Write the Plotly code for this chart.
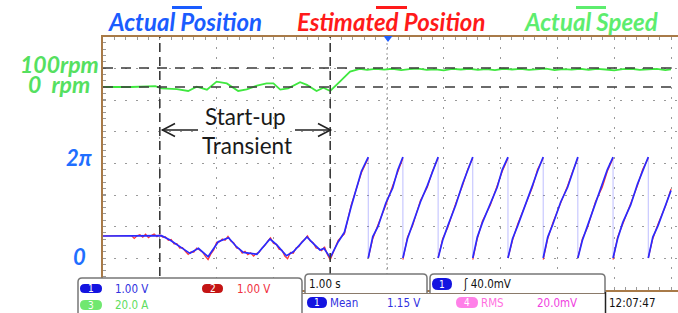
import plotly.graph_objects as go

# ---------------- data ----------------
TWO_PI = 6.283

# Actual speed (rpm) vs time (s)
SPEED_T = [0.00, 0.50, 0.92, 1.03, 1.30, 1.50, 1.65, 1.74, 1.83, 2.00, 2.18, 2.38, 2.53, 2.71,
           2.88, 3.00, 3.12, 3.26, 3.47, 3.59, 3.76, 3.88, 4.00, 4.17, 4.35, 4.52,
           4.65, 4.80, 4.95, 5.10, 5.25, 5.40, 5.55, 5.70, 5.85, 6.00, 6.15, 6.30, 6.45, 6.60,
           6.75, 6.90, 7.05, 7.20, 7.35, 7.50, 7.65, 7.80, 7.95, 8.10, 8.25, 8.40, 8.55, 8.70,
           8.85, 9.00, 9.15, 9.30, 9.45, 9.60, 9.75, 9.90, 10.00]
SPEED_RPM = [0, 0, 5, -7, -11, -21, 2, -7, -14, 28, 19, -21, -12, 7,
             19, 19, -14, -7, 25, 11, -21, -4, -21, 28, 81, 95,
             90, 95, 91, 96, 89, 94, 97, 90, 93, 88, 95, 92, 96, 90,
             94, 89, 96, 92, 95, 90, 93, 97, 89, 94, 91, 96, 90, 95,
             92, 88, 94, 96, 90, 93, 95, 89, 93]

# Actual position (rad) vs time (s); None separates sawtooth ramps
POS_T = [0.00, 0.48, 1.03, 1.18, 1.36, 1.53, 1.68, 1.85, 2.03, 2.21, 2.35, 2.47, 2.71, 2.94,
         3.06, 3.23, 3.35, 3.59, 3.70, 3.82, 3.89, 4.00,
         4.14, 4.25, 4.37, 4.55, 4.67, None,
         4.67, 4.75, 4.84, 4.98, 5.10, 5.19, 5.28, None,
         5.28, 5.36, 5.45, 5.59, 5.71, 5.80, 5.90, None,
         5.90, 5.98, 6.07, 6.21, 6.33, 6.42, 6.51, None,
         6.51, 6.59, 6.68, 6.82, 6.94, 7.03, 7.13, None,
         7.13, 7.21, 7.30, 7.44, 7.56, 7.65, 7.75, None,
         7.75, 7.83, 7.92, 8.06, 8.18, 8.27, 8.36, None,
         8.36, 8.44, 8.53, 8.67, 8.79, 8.88, 8.98, None,
         8.98, 9.06, 9.15, 9.29, 9.41, 9.50, 9.60, None,
         9.60, 9.68, 9.77, 9.91, 10.00]
POS_V = [1.37, 1.37, 1.39, 1.12, 0.70, 0.29, 0.60, 0.08, 1.01, 1.26, 0.70, 0.35, 0.23, 1.18,
         0.81, 0.14, 0.39, 1.31, 0.91, 0.50, 0.60, 0.02,
         1.0, 1.6, 3.2, 5.4, 6.28, None,
         0.0, 1.33, 1.95, 3.42, 4.35, 5.48, 6.28, None,
         0.0, 1.2, 2.1, 3.5, 4.5, 5.3, 6.28, None,
         0.0, 1.1, 2.0, 3.3, 4.6, 5.4, 6.28, None,
         0.0, 1.3, 2.2, 3.4, 4.4, 5.5, 6.28, None,
         0.0, 1.2, 2.0, 3.3, 4.5, 5.4, 6.28, None,
         0.0, 1.3, 2.1, 3.5, 4.4, 5.3, 6.28, None,
         0.0, 1.1, 2.0, 3.4, 4.5, 5.5, 6.28, None,
         0.0, 1.2, 2.2, 3.3, 4.6, 5.4, 6.28, None,
         0.0, 1.3, 2.0, 3.4, 4.2]

# Times of the wrap-around (2pi -> 0)
WRAP_T = [4.67, 5.28, 5.90, 6.51, 7.13, 7.75, 8.36, 8.98, 9.60]

# Estimated position (rad) vs time (s)
EST_T = [0.00, 0.20, 0.40, 0.50, 0.55, 0.60, 0.65, 0.70, 0.75, 0.80, 0.85, 0.90, 0.95, 1.00,
         1.05, 1.10, 1.15, 1.20, 1.25, 1.30, 1.35, 1.40, 1.45, 1.50, 1.55, 1.60, 1.65, 1.70,
         1.75, 1.80, 1.85, 1.90, 1.95, 2.00, 2.05, 2.10, 2.15, 2.20, 2.25, 2.30, 2.35, 2.40,
         2.45, 2.50, 2.55, 2.60, 2.65, 2.70, 2.75, 2.80, 2.85, 2.90, 2.95, 3.00, 3.05, 3.10,
         3.15, 3.20, 3.25, 3.30, 3.35, 3.40, 3.45, 3.50, 3.55, 3.60, 3.65, 3.70, 3.75, 3.80,
         3.85, 3.90, 3.95, 4.00,
         4.14, 4.25, 4.37, 4.55, 4.67, None,
         4.67, 4.75, 4.84, 4.98, 5.10, 5.19, 5.28, None,
         5.28, 5.36, 5.45, 5.59, 5.71, 5.80, 5.90, None,
         5.90, 5.98, 6.07, 6.21, 6.33, 6.42, 6.51, None,
         6.51, 6.59, 6.68, 6.82, 6.94, 7.03, 7.13, None,
         7.13, 7.21, 7.30, 7.44, 7.56, 7.65, 7.75, None,
         7.75, 7.83, 7.92, 8.06, 8.18, 8.27, 8.36, None,
         8.36, 8.44, 8.53, 8.67, 8.79, 8.88, 8.98, None,
         8.98, 9.06, 9.15, 9.29, 9.41, 9.50, 9.60, None,
         9.60, 9.68, 9.77, 9.91, 10.00]
EST_V = [1.37, 1.37, 1.36, 1.40, 1.22, 1.38, 1.45, 1.30, 1.48, 1.26, 1.40, 1.50, 1.32, 1.45,
         1.30, 1.32, 1.10, 1.15, 0.88, 0.90, 0.62, 0.65, 0.42, 0.22, 0.38, 0.36, 0.62, 0.50,
         0.38, 0.12, -0.10, 0.25, 0.50, 0.98, 1.00, 1.18, 1.10, 1.35, 1.05, 0.95, 0.62, 0.58,
         0.30, 0.42, 0.20, 0.32, 0.12, 0.28, 0.35, 0.62, 0.78, 1.05, 1.25, 0.92, 0.85, 0.55,
         0.48, 0.12, -0.05, 0.35, 0.30, 0.62, 0.72, 1.00, 1.15, 1.38, 1.05, 0.95, 0.62, 0.58,
         0.45, 0.70, 0.22, -0.12,
         1.1, 1.5, 3.3, 5.3, 6.2, None,
         0.0, 1.2, 2.05, 3.3, 4.5, 5.35, 6.2, None,
         -0.1, 1.3, 2.0, 3.6, 4.4, 5.4, 6.2, None,
         0.0, 1.2, 1.9, 3.4, 4.5, 5.5, 6.2, None,
         -0.1, 1.2, 2.3, 3.3, 4.5, 5.4, 6.2, None,
         0.0, 1.1, 2.1, 3.4, 4.4, 5.5, 6.2, None,
         -0.1, 1.2, 2.2, 3.4, 4.5, 5.4, 6.2, None,
         0.0, 1.2, 1.9, 3.5, 4.4, 5.4, 6.2, None,
         -0.1, 1.3, 2.1, 3.4, 4.5, 5.5, 6.2, None,
         0.0, 1.2, 2.1, 3.3, 4.3]

CURSOR_T = [1.0, 4.0]          # start-up transient limits (s)
CURSOR_RPM = [100, 0]          # speed cursors (rpm)
TRIGGER_T = 5.0

# ---------------- geometry helpers (layout only) ----------------
W, H = 678, 313
ML, MR, MT, MB = 103, 0, 37, 23
PW, PH = W - ML - MR, H - MT - MB
X_RANGE = [0, PW / 56.8]
RAD_PX = 16.075                 # pixels per radian
DIV_PX = PH / 8                 # one vertical division in pixels
POS_RANGE = [-32 / RAD_PX, (PH - 32) / RAD_PX]
DIV_RAD = DIV_PX / RAD_PX       # one division expressed in radians
RPM_PX = 0.19
SPD_RANGE = [-(PH - 50) / RPM_PX, 50 / RPM_PX]


def px(x):
    return (x - ML) / PW


def py(y):
    return (H - MB - y) / PH


def rrect(x0, y0, x1, y1, r):
    rx, ry = r / PW, r / PH
    X0, X1, Y0, Y1 = px(x0), px(x1), py(y0), py(y1)
    return (f"M{X0+rx},{Y0} L{X1-rx},{Y0} Q{X1},{Y0} {X1},{Y0-ry} L{X1},{Y1+ry} "
            f"Q{X1},{Y1} {X1-rx},{Y1} L{X0+rx},{Y1} Q{X0},{Y1} {X0},{Y1+ry} "
            f"L{X0},{Y0-ry} Q{X0},{Y0} {X0+rx},{Y0} Z")


fig = go.Figure()

# drops of the sawtooth (faint)
dx, dy = [], []
for t in WRAP_T:
    dx += [t, t, None]
    dy += [TWO_PI, 0, None]
fig.add_trace(go.Scatter(x=dx, y=dy, mode="lines",
                         line=dict(color="rgba(110,110,255,0.45)", width=1), hoverinfo="skip"))
fig.add_trace(go.Scatter(x=EST_T, y=EST_V, mode="lines",
                         line=dict(color="#ff3434", width=1.2), name="Estimated Position"))
fig.add_trace(go.Scatter(x=POS_T, y=POS_V, mode="lines",
                         line=dict(color="#2a2aff", width=1.7), name="Actual Position"))
fig.add_trace(go.Scatter(x=SPEED_T, y=SPEED_RPM, yaxis="y2", mode="lines",
                         line=dict(color="#3fe83f", width=1.8), name="Actual Speed"))

shapes = []
# cursors
for t in CURSOR_T:
    shapes.append(dict(type="line", xref="x", yref="paper", x0=t, x1=t, y0=0, y1=1,
                       line=dict(color="#3a3a3a", width=1.6, dash="9px,5px"), layer="above"))
for r in CURSOR_RPM:
    shapes.append(dict(type="line", xref="paper", yref="y2", x0=0, x1=1, y0=r, y1=r,
                       line=dict(color="#3a3a3a", width=1.6, dash="10px,8px"), layer="above"))
# trigger center line
shapes.append(dict(type="line", xref="x", yref="paper", x0=TRIGGER_T, x1=TRIGGER_T, y0=0, y1=1,
                   line=dict(color="#b0b0b0", width=1.2, dash="2px,3px"), layer="below"))
# trigger marker
shapes.append(dict(type="path", xref="paper", yref="paper",
                   path=f"M{px(383.5)},{py(36)} L{px(392.5)},{py(36)} L{px(388)},{py(42)} Z",
                   fillcolor="#1f5fff", line=dict(width=0), layer="above"))
# start-up arrows
arrow_line = dict(color="#222222", width=1.6)
shapes += [
    dict(type="line", xref="paper", yref="paper", x0=px(162), x1=px(198), y0=py(130), y1=py(130), line=arrow_line),
    dict(type="path", xref="paper", yref="paper",
         path=f"M{px(175)},{py(123.5)} L{px(162.5)},{py(130)} L{px(175)},{py(136.5)}", line=arrow_line),
    dict(type="line", xref="paper", yref="paper", x0=px(295), x1=px(331), y0=py(130), y1=py(130), line=arrow_line),
    dict(type="path", xref="paper", yref="paper",
         path=f"M{px(318)},{py(123.5)} L{px(330.5)},{py(130)} L{px(318)},{py(136.5)}", line=arrow_line),
]
# overline bars of the legend titles
for (x0, x1, c) in [(172, 202, "#1a5cff"), (376, 407, "#ff1a1a"), (576, 606, "#5ded6e")]:
    shapes.append(dict(type="rect", xref="paper", yref="paper", x0=px(x0), x1=px(x1),
                       y0=py(9), y1=py(6), fillcolor=c, line=dict(width=0)))

# info panel boxes
shapes.append(dict(type="rect", xref="paper", yref="paper", x0=px(302), x1=px(678),
                   y0=py(320), y1=py(293), fillcolor="white", line=dict(width=0), layer="above"))
shapes.append(dict(type="path", xref="paper", yref="paper", path=rrect(78, 278, 302, 330, 4),
                   fillcolor="white", line=dict(color="#777777", width=1.5), layer="above"))
shapes.append(dict(type="path", xref="paper", yref="paper", path=rrect(305, 274, 427, 300, 4),
                   fillcolor="white", line=dict(color="#777777", width=1.5), layer="above"))
shapes.append(dict(type="path", xref="paper", yref="paper", path=rrect(430, 274, 605, 300, 4),
                   fillcolor="white", line=dict(color="#777777", width=1.5), layer="above"))
shapes.append(dict(type="rect", xref="paper", yref="paper", x0=px(303), x1=px(606),
                   y0=py(313), y1=py(294), fillcolor="white", line=dict(width=0), layer="above"))
shapes.append(dict(type="line", xref="paper", yref="paper", x0=px(302), x1=px(606),
                   y0=py(293.5), y1=py(293.5), line=dict(color="#8a7a6a", width=1.2), layer="above"))
shapes.append(dict(type="line", xref="paper", yref="paper", x0=px(605.5), x1=px(605.5),
                   y0=py(292), y1=py(313), line=dict(color="#222222", width=1.5), layer="above"))

# badges
BADGES = [
    (80, 284, 102, 293, "#1414e0", "1"),
    (202, 284, 223, 293, "#c41414", "2"),
    (80, 300, 102, 310, "#70e870", "3"),
    (432, 278, 452, 290, "#1414e0", "1"),
    (307, 297, 327, 308, "#1414e0", "1"),
    (456, 297, 478, 308, "#ff80e8", "4"),
]
annotations = []
for (x0, y0, x1, y1, c, lab) in BADGES:
    shapes.append(dict(type="path", xref="paper", yref="paper",
                       path=rrect(x0, y0, x1, y1, (y1 - y0) / 2), fillcolor=c,
                       line=dict(width=0), layer="above"))
    annotations.append(dict(x=px((x0 + x1) / 2), y=py((y0 + y1) / 2), xref="paper", yref="paper",
                            text=lab, showarrow=False, xanchor="center", yanchor="middle",
                            font=dict(family="Liberation Sans Narrow, DejaVu Sans Condensed, sans-serif",
                                      size=10, color="white")))

NARROW = "Liberation Sans Narrow, DejaVu Sans Condensed, Arial Narrow, sans-serif"
INFO_TEXT = [
    (113, 288.5, "1.00 V", "#3030e0"),
    (235, 288.5, "1.00 V", "#f03040"),
    (113, 305, "20.0 A", "#60dd60"),
    (307, 283.5, "1.00 s", "#111111"),
    (461, 283.5, "ʃ 40.0mV", "#111111"),
    (328, 303, "Mean", "#3030e0"),
    (385, 303, "1.15 V", "#3030e0"),
    (479, 303, "RMS", "#ff70e0"),
    (535, 303, "20.0mV", "#f040e0"),
    (607, 303, "12:07:47", "#111111"),
]
for (x, y, t, c) in INFO_TEXT:
    annotations.append(dict(x=px(x), y=py(y), xref="paper", yref="paper", text=t, showarrow=False,
                            xanchor="left", yanchor="middle",
                            font=dict(family=NARROW, size=11.5, color=c)))

TITLE_FONT = "Lato, Open Sans, sans-serif"
for (x, y, t, c, s) in [
    (185, 22, "<b><i>Actual Position</i></b>", "#1a5cff", 24),
    (390.5, 22, "<b><i>Estimated Position</i></b>", "#ff1a1a", 24),
    (590.5, 22, "<b><i>Actual Speed</i></b>", "#5ded6e", 24),
    (59, 64, "<b><i>100rpm</i></b>", "#55e060", 23),
    (59, 84, "<b><i>0  rpm</i></b>", "#55e060", 23),
    (78.5, 157, "<b><i>2π</i></b>", "#1f6fff", 22),
    (79, 256, "<b><i>0</i></b>", "#1f6fff", 22),
]:
    annotations.append(dict(x=px(x), y=py(y), xref="paper", yref="paper", text=t, showarrow=False,
                            xanchor="center", yanchor="middle", font=dict(family=TITLE_FONT, size=s, color=c)))

for (x, y, t) in [(245, 117, "Start-up"), (246.5, 145.5, "Transient")]:
    annotations.append(dict(x=px(x), y=py(y), xref="paper", yref="paper", text=t, showarrow=False,
                            xanchor="center", yanchor="middle",
                            font=dict(family=TITLE_FONT, size=22.5, color="#1a1a1a")))

fig.update_layout(
    width=W, height=H, margin=dict(l=ML, r=MR, t=MT, b=MB, pad=0),
    paper_bgcolor="white", plot_bgcolor="rgba(0,0,0,0)", showlegend=False,
    xaxis=dict(range=X_RANGE, side="top", dtick=1, tick0=0, showgrid=True,
               gridcolor="#9a9a9a", griddash="2px,8px", gridwidth=1,
               zeroline=False, showline=True, linecolor="#a87a48", linewidth=2, mirror="ticks",
               ticks="inside", ticklen=3, tickcolor="#999999", showticklabels=False,
               minor=dict(dtick=0.2, ticks="inside", ticklen=3, tickcolor="#999999", showgrid=False),
               fixedrange=True),
    yaxis=dict(range=POS_RANGE, dtick=DIV_RAD, tick0=POS_RANGE[0], showgrid=True,
               gridcolor="#9a9a9a", griddash="2px,9px", gridwidth=1,
               zeroline=False, showline=True, linecolor="#a87a48", linewidth=2,
               ticks="inside", ticklen=3, tickcolor="#999999", showticklabels=False,
               minor=dict(dtick=DIV_RAD / 5, ticks="inside", ticklen=3, tickcolor="#999999", showgrid=False),
               fixedrange=True),
    yaxis2=dict(range=SPD_RANGE, overlaying="y", anchor="x",
                showgrid=False, zeroline=False, showticklabels=False, showline=False, ticks="",
                fixedrange=True),
    shapes=shapes, annotations=annotations,
)

fig.write_html("out.html", post_script="document.body.style.margin='0';",
               config={"displayModeBar": False})
